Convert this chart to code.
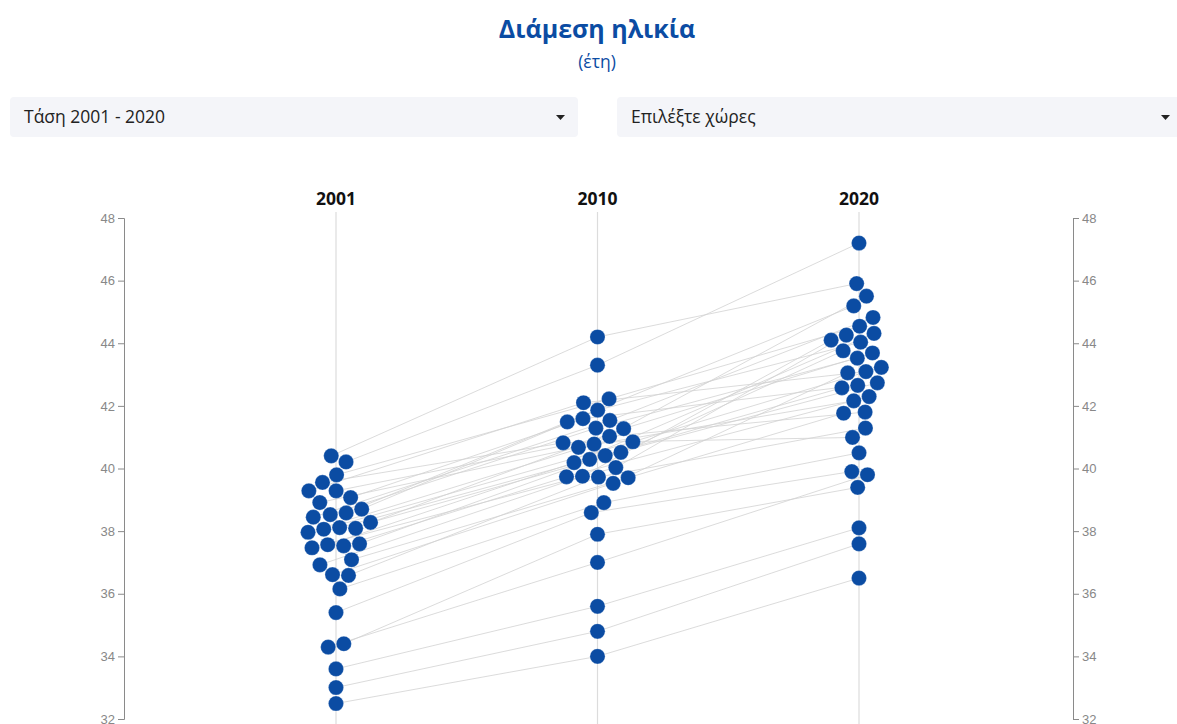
<!DOCTYPE html>
<html>
<head>
<meta charset="utf-8">
<script src="https://cdn.jsdelivr.net/npm/d3@7"></script>
<style>
  body { margin: 0; background: #fff; overflow: hidden; }
  svg { display: block; }
</style>
</head>
<body>
<script>
const {select, scaleLinear, scalePoint, axisLeft, axisRight, forceSimulation, forceX, forceY, forceCollide, line} = d3;

const width = 1177;
const height = 724;

// data: median age (years)
const years = ['2001', '2010', '2020'];
const countries = ['DE', 'IT', 'BG', 'SE', 'BE', 'FI', 'CH', 'DK', 'HR', 'EL', 'AT', 'SI', 'LV', 'EE', 'HU', 'LI',
                   'PT', 'ES', 'NL', 'CZ', 'EU27', 'FR', 'LT', 'RO', 'NO', 'MT', 'PL', 'LU', 'SK', 'CY', 'IE', 'IS'];
const age2001 = [40.4, 40.2, 39.8, 39.5, 39.3, 39.3, 39.0, 38.8, 38.7, 38.6, 38.5, 38.4, 38.3, 38.2, 38.1, 38.1,
                 38.0, 37.6, 37.6, 37.5, 37.5, 37.1, 36.9, 36.6, 36.6, 36.2, 35.4, 34.4, 34.3, 33.6, 33.0, 32.5];
const age2010 = [44.2, 43.3, 42.2, 40.8, 41.1, 42.0, 41.6, 40.7, 41.9, 41.5, 41.3, 41.4, 40.5, 40.3, 40.8, 41.3,
                 40.7, 40.1, 40.5, 39.8, 40.1, 39.7, 39.8, 39.6, 39.7, 38.9, 38.6, 37.9, 37.0, 35.6, 34.8, 34.0];
const age2020 = [45.9, 47.2, 44.5, 41.0, 41.9, 43.1, 42.7, 42.1, 44.1, 45.2, 43.5, 44.8, 43.8, 42.6, 43.2, 43.7,
                 45.5, 44.3, 42.7, 42.3, 44.2, 41.8, 44.1, 43.0, 41.3, 40.5, 39.9, 39.4, 39.8, 38.1, 37.6, 36.5];
const yTicks = [32, 34, 36, 38, 40, 42, 44, 46, 48];

const blue = '#0b4ca3';
const dotR = 7.6;

const svg = select('body')
    .append('svg')
    .attr('width', width)
    .attr('height', height);

// title
svg.append('text')
    .attr('x', 597)
    .attr('y', 38)
    .attr('text-anchor', 'middle')
    .style('font', 'bold 25px "Open Sans", "Noto Sans", sans-serif')
    .attr('fill', blue)
    .text('Διάμεση ηλικία');

svg.append('text')
    .attr('x', 597)
    .attr('y', 68)
    .attr('text-anchor', 'middle')
    .style('font', '17.5px "Open Sans", "Noto Sans", sans-serif')
    .attr('fill', blue)
    .text('(έτη)');

// fake dropdowns
const dropdowns = [
    {x: 10, w: 568, caret: 546, label: 'Τάση 2001 - 2020'},
    {x: 617, w: 575, caret: 544, label: 'Επιλέξτε χώρες'}
];
const dd = svg.selectAll('g.dd')
    .data(dropdowns)
    .enter()
    .append('g')
    .attr('class', 'dd')
    .attr('transform', d => `translate(${d.x},97)`);

dd.append('rect')
    .attr('width', d => d.w)
    .attr('height', 40)
    .attr('rx', 4)
    .attr('fill', '#f4f5f9');

dd.append('text')
    .attr('x', 14)
    .attr('y', 26)
    .style('font', '17.5px "Open Sans", "Noto Sans", sans-serif')
    .attr('fill', '#222')
    .text(d => d.label);

dd.append('path')
    .attr('d', d => `M${d.caret},18 h9 l-4.5,5 z`)
    .attr('fill', '#222');

// scales
const yScale = scaleLinear()
    .domain([32, 48])
    .range([719, 218]);

const xScale = scalePoint()
    .domain(years)
    .range([336, 859]);

// axes
const styleAxis = g => {
    g.select('.domain').attr('stroke', '#8a8a8a');
    g.selectAll('.tick line').attr('stroke', '#8a8a8a');
    g.selectAll('.tick text')
        .attr('fill', '#888')
        .style('font-size', '13px')
        .style('font-family', '"Liberation Sans", Arial, sans-serif');
};

svg.append('g')
    .attr('transform', 'translate(124,0)')
    .call(axisLeft(yScale).tickValues(yTicks))
    .call(styleAxis);

svg.append('g')
    .attr('transform', 'translate(1073,0)')
    .call(axisRight(yScale).tickValues(yTicks))
    .call(styleAxis);

// year columns
svg.selectAll('line.col')
    .data(years)
    .enter()
    .append('line')
    .attr('class', 'col')
    .attr('x1', d => xScale(d))
    .attr('x2', d => xScale(d))
    .attr('y1', 212)
    .attr('y2', 740)
    .attr('stroke', '#dcdcdc')
    .attr('stroke-width', 1.2);

svg.selectAll('text.year')
    .data(years)
    .enter()
    .append('text')
    .attr('class', 'year')
    .attr('x', d => xScale(d))
    .attr('y', 205)
    .attr('text-anchor', 'middle')
    .style('font', 'bold 17.5px "Open Sans", "Noto Sans", sans-serif')
    .attr('fill', '#111')
    .text(d => d);

// nodes for beeswarm
const series = {'2001': age2001, '2010': age2010, '2020': age2020};
const nodes = [];
years.forEach(yr => {
    countries.forEach((c, i) => {
        const v = series[yr][i];
        nodes.push({country: c, year: yr, value: v, x: xScale(yr), y: yScale(v)});
    });
});

const simulation = forceSimulation(nodes)
    .force('x', forceX(d => xScale(d.year)).strength(0.06))
    .force('y', forceY(d => yScale(d.value)).strength(1))
    .force('collide', forceCollide(dotR + 0.4).iterations(3))
    .stop();

for (let i = 0; i < 400; i++) simulation.tick();

// country trend lines
const byCountry = countries.map(c => nodes.filter(n => n.country === c));

svg.append('g')
    .selectAll('path')
    .data(byCountry)
    .enter()
    .append('path')
    .attr('d', line().x(d => d.x).y(d => d.y))
    .attr('fill', 'none')
    .attr('stroke', '#d2d2d2')
    .attr('stroke-width', 0.8);

svg.append('g')
    .selectAll('circle')
    .data(nodes)
    .enter()
    .append('circle')
    .attr('cx', d => d.x)
    .attr('cy', d => d.y)
    .attr('r', dotR)
    .attr('fill', blue)
    .attr('stroke', 'rgba(255,255,255,0.5)')
    .attr('stroke-width', 0.5);
</script>
</body>
</html>
